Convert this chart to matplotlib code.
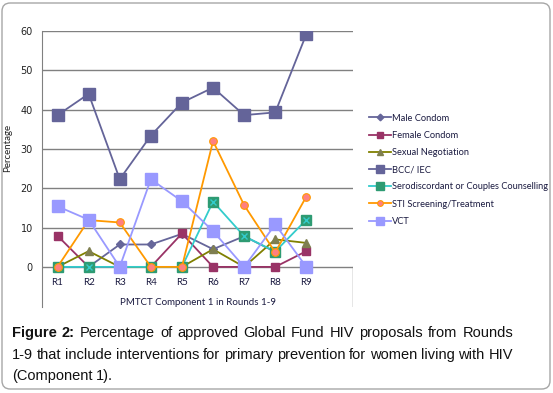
import matplotlib
matplotlib.use("Agg")
import matplotlib.pyplot as plt
import matplotlib.patches as patches
import numpy as np

rounds = ["R1", "R2", "R3", "R4", "R5", "R6", "R7", "R8", "R9"]

male_condom = [0, 0, 5.7, 5.7, 8.4, 4.5, 7.8, 3.8, np.nan]
female_condom = [7.9, 0, 0, 0, 8.5, 0, 0, 0, 4.0]
sexual_negotiation = [0, 4.0, 0, 0, 0, 4.5, 0, 7.0, 6.1]
bcc_iec = [38.6, 44.0, 22.3, 33.4, 41.8, 45.6, 38.6, 39.3, 59.2]
serodiscordant = [0, 0, 0, 0, 0, 16.6, 7.8, 3.9, 12.0]
sti = [0, 11.9, 11.3, 0, 0, 32.0, 15.7, 3.7, 17.9]
vct = [15.4, 12.0, 0, 22.3, 16.7, 9.1, 0, 10.8, 0]

W, H = 553, 393
fig = plt.figure(figsize=(W / 100, H / 100), dpi=100)
ax = fig.add_axes([42 / W, 1 - 307 / H, 311 / W, 276 / H])
x = np.arange(len(rounds))

ax.plot(x, male_condom, color="#66669A", lw=1.3, marker="D", ms=4.5,
        mfc="#66669A", mec="#66669A", label="Male Condom")
ax.plot(x, female_condom, color="#993366", lw=1.3, marker="s", ms=5.5,
        mfc="#993366", mec="#993366", label="Female Condom")
ax.plot(x, sexual_negotiation, color="#808000", lw=1.3, marker="^", ms=6,
        mfc="#7F7F50", mec="#7F7F50", label="Sexual Negotiation")
ax.plot(x, bcc_iec, color="#646499", lw=1.3, marker="s", ms=8,
        mfc="#646499", mec="#646499", label="BCC/ IEC")
ax.plot(x, serodiscordant, color="#33CCCC", lw=1.3, marker="s", ms=7,
        mfc="#2E9B73", mec="#2E9B73", label="Serodiscordant or Couples Counselling")
ax.plot(x, serodiscordant, ls="none", marker="x", ms=5, mew=1, color="#33CCCC")
ax.plot(x, sti, color="#FF9900", lw=1.3, marker="o", ms=5.5,
        mfc="#FF8080", mec="#FF9900", mew=0.8, label="STI Screening/Treatment")
ax.plot(x, vct, color="#9999FF", lw=1.3, marker="s", ms=8,
        mfc="#9999FF", mec="#9999FF", label="VCT")

ax.set_xlim(-0.5, 9.5)
ax.set_ylim(-10.2, 60)
ax.set_yticks(range(0, 70, 10))
ax.set_xticks([])
ax.grid(axis="y", color="#808080", lw=1)
ax.set_axisbelow(True)
for s in ["top", "right", "bottom"]:
    ax.spines[s].set_visible(False)
ax.spines["left"].set_color("#808080")
ax.axvline(9.5, ymin=0, ymax=10.2 / 70.2, color="#808080", lw=1)
ax.tick_params(axis="y", length=0, pad=6.5, labelsize=7, labelcolor="#222222")

for i, lab in enumerate(rounds):
    ax.text(i, -3.9, lab, ha="center", va="center", fontsize=7,
            color="#1a1a40", family="Lato")
ax.text(4.5, -9.0, "PMTCT Component 1 in Rounds 1-9", ha="center", va="center",
        fontsize=7, color="#1a1a40", family="Lato")
fig.text(8 / W, 1 - 148 / H, "Percentage", rotation=90, ha="center", va="center",
         fontsize=7, family="Lato", color="#222222")

leg = ax.legend(loc="upper left", bbox_to_anchor=(365 / W, 1 - 110 / H),
                bbox_transform=fig.transFigure, frameon=False,
                prop={"family": "Lato", "size": 6.7}, handlelength=2.4,
                handletextpad=0.15, labelspacing=0.88, borderaxespad=0,
                markerscale=0.75)
for t in leg.get_texts():
    t.set_color("#1a1a40")

# caption, justified like the source
cap_lines = [
    "Figure 2: Percentage of approved Global Fund HIV proposals from Rounds",
    "1-9 that include interventions for primary prevention for women living with HIV",
    "(Component 1).",
]
cap_y = [333, 355, 376]
left, right = 12, 513
renderer = fig.canvas.get_renderer()
for li, line in enumerate(cap_lines):
    words = line.split(" ")
    texts = []
    for wi, w in enumerate(words):
        bold = li == 0 and wi < 2
        t = fig.text(0, 1 - cap_y[li] / H, w, fontsize=10.5, family="Liberation Sans",
                     weight="bold" if bold else "normal", va="center", ha="left",
                     color="#111111")
        texts.append(t)
    widths = [t.get_window_extent(renderer).width for t in texts]
    if li < len(cap_lines) - 1:
        gap = (right - left - sum(widths)) / (len(words) - 1)
    else:
        gap = 3.0
    pos = left
    for t, wd in zip(texts, widths):
        t.set_x(pos / W)
        pos += wd + gap

border = patches.FancyBboxPatch((2 / W, 4 / H), 548 / W, 386 / H,
                                boxstyle="round,pad=0,rounding_size=0.015",
                                mutation_aspect=W / H, transform=fig.transFigure,
                                fill=False, ec="#A6A6A6", lw=1)
fig.patches.append(border)

fig.savefig("out.png", dpi=100)
